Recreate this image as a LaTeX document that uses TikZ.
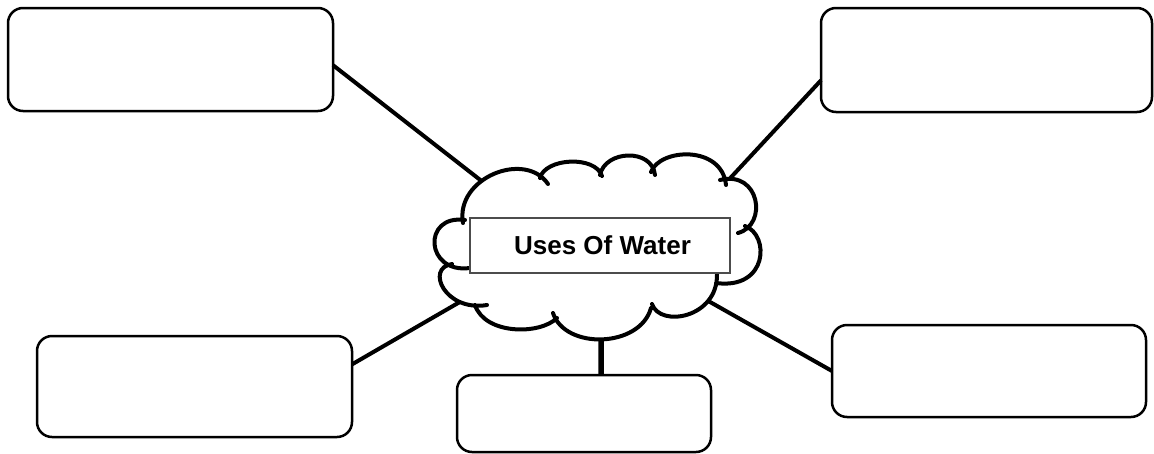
\documentclass[tikz,border=0pt]{standalone}
\usepackage{fontspec}
\setmainfont{Liberation Sans}
\begin{document}
\begin{tikzpicture}[x=1pt,y=-1pt,
  usebox/.style={draw=black, fill=white, line width=2.5pt, rounded corners=15pt,
    inner sep=0pt, outer sep=0pt},
  conn/.style={draw=black, line width=4pt},
  cloudline/.style={draw=black, line width=4pt, line cap=round},
  titlebox/.style={draw=black!70, fill=white, line width=1.5pt, inner sep=0pt,
    outer sep=0pt, minimum width=260pt, minimum height=55pt,
    font=\fontsize{26}{30}\selectfont\bfseries}]
\useasboundingbox (0,0) rectangle (1154,453);
% boxes
\node[usebox, minimum width=325pt, minimum height=103pt] (tl) at (170.5,59.5) {};
\node[usebox, minimum width=331pt, minimum height=104pt] (tr) at (986.5,60) {};
\node[usebox, minimum width=315pt, minimum height=101pt] (bl) at (194.5,386.5) {};
\node[usebox, minimum width=314pt, minimum height=92pt] (br) at (989,371) {};
\node[usebox, minimum width=254pt, minimum height=77pt] (bm) at (584,413.5) {};
% cloud attachment points
\coordinate (ctl) at (488,186);
\coordinate (ctr) at (722,187);
\coordinate (cbl) at (465,299);
\coordinate (cbr) at (703,298);
\coordinate (cbm) at (601,330);
% connectors
\draw[conn] (tl.-2.6) -- (ctl);
\draw[conn] (tr.187.6) -- (ctr);
\draw[conn] (bl.8.5) -- (cbl);
\draw[conn] (br.180.7) -- (cbr);
\draw[conn, line width=5.5pt] (bm.66.2) -- (cbm);
% cloud fill
\fill[white] (470,268) .. controls (425,274) and (422,214) .. (465,220)
 -- (463,223) .. controls (455,178) and (525,150) .. (548,184)
 -- (540,178) .. controls (545,158) and (595,155) .. (602,176)
 -- (600,175) .. controls (605,150) and (652,148) .. (655,175)
 -- (651,172) .. controls (660,148) and (722,145) .. (726,185)
 -- (720,180) .. controls (760,170) and (768,225) .. (738,233)
 -- (745,226) .. controls (770,235) and (768,290) .. (716,283)
 -- (717,274) .. controls (718,318) and (660,328) .. (652,304)
 -- (651,308) .. controls (640,348) and (565,350) .. (553,313)
 -- (557,318) .. controls (540,335) and (485,335) .. (475,305)
 -- (487,305) .. controls (445,312) and (425,268) .. (452,264)
 -- cycle;
% cloud outline
\draw[cloudline] (470,268) .. controls (425,274) and (422,214) .. (465,220)
 (463,223) .. controls (455,178) and (525,150) .. (548,184)
 (540,178) .. controls (545,158) and (595,155) .. (602,176)
 (600,175) .. controls (605,150) and (652,148) .. (655,175)
 (651,172) .. controls (660,148) and (722,145) .. (726,185)
 (720,180) .. controls (760,170) and (768,225) .. (738,233)
 (745,226) .. controls (770,235) and (768,290) .. (716,283)
 (717,274) .. controls (718,318) and (660,328) .. (652,304)
 (651,308) .. controls (640,348) and (565,350) .. (553,313)
 (557,318) .. controls (540,335) and (485,335) .. (475,305)
 (487,305) .. controls (445,312) and (425,268) .. (452,264);
% title
\node[titlebox] (title) at (600,245.5) {\hspace*{5pt}Uses Of Water};
\end{tikzpicture}
\end{document}
